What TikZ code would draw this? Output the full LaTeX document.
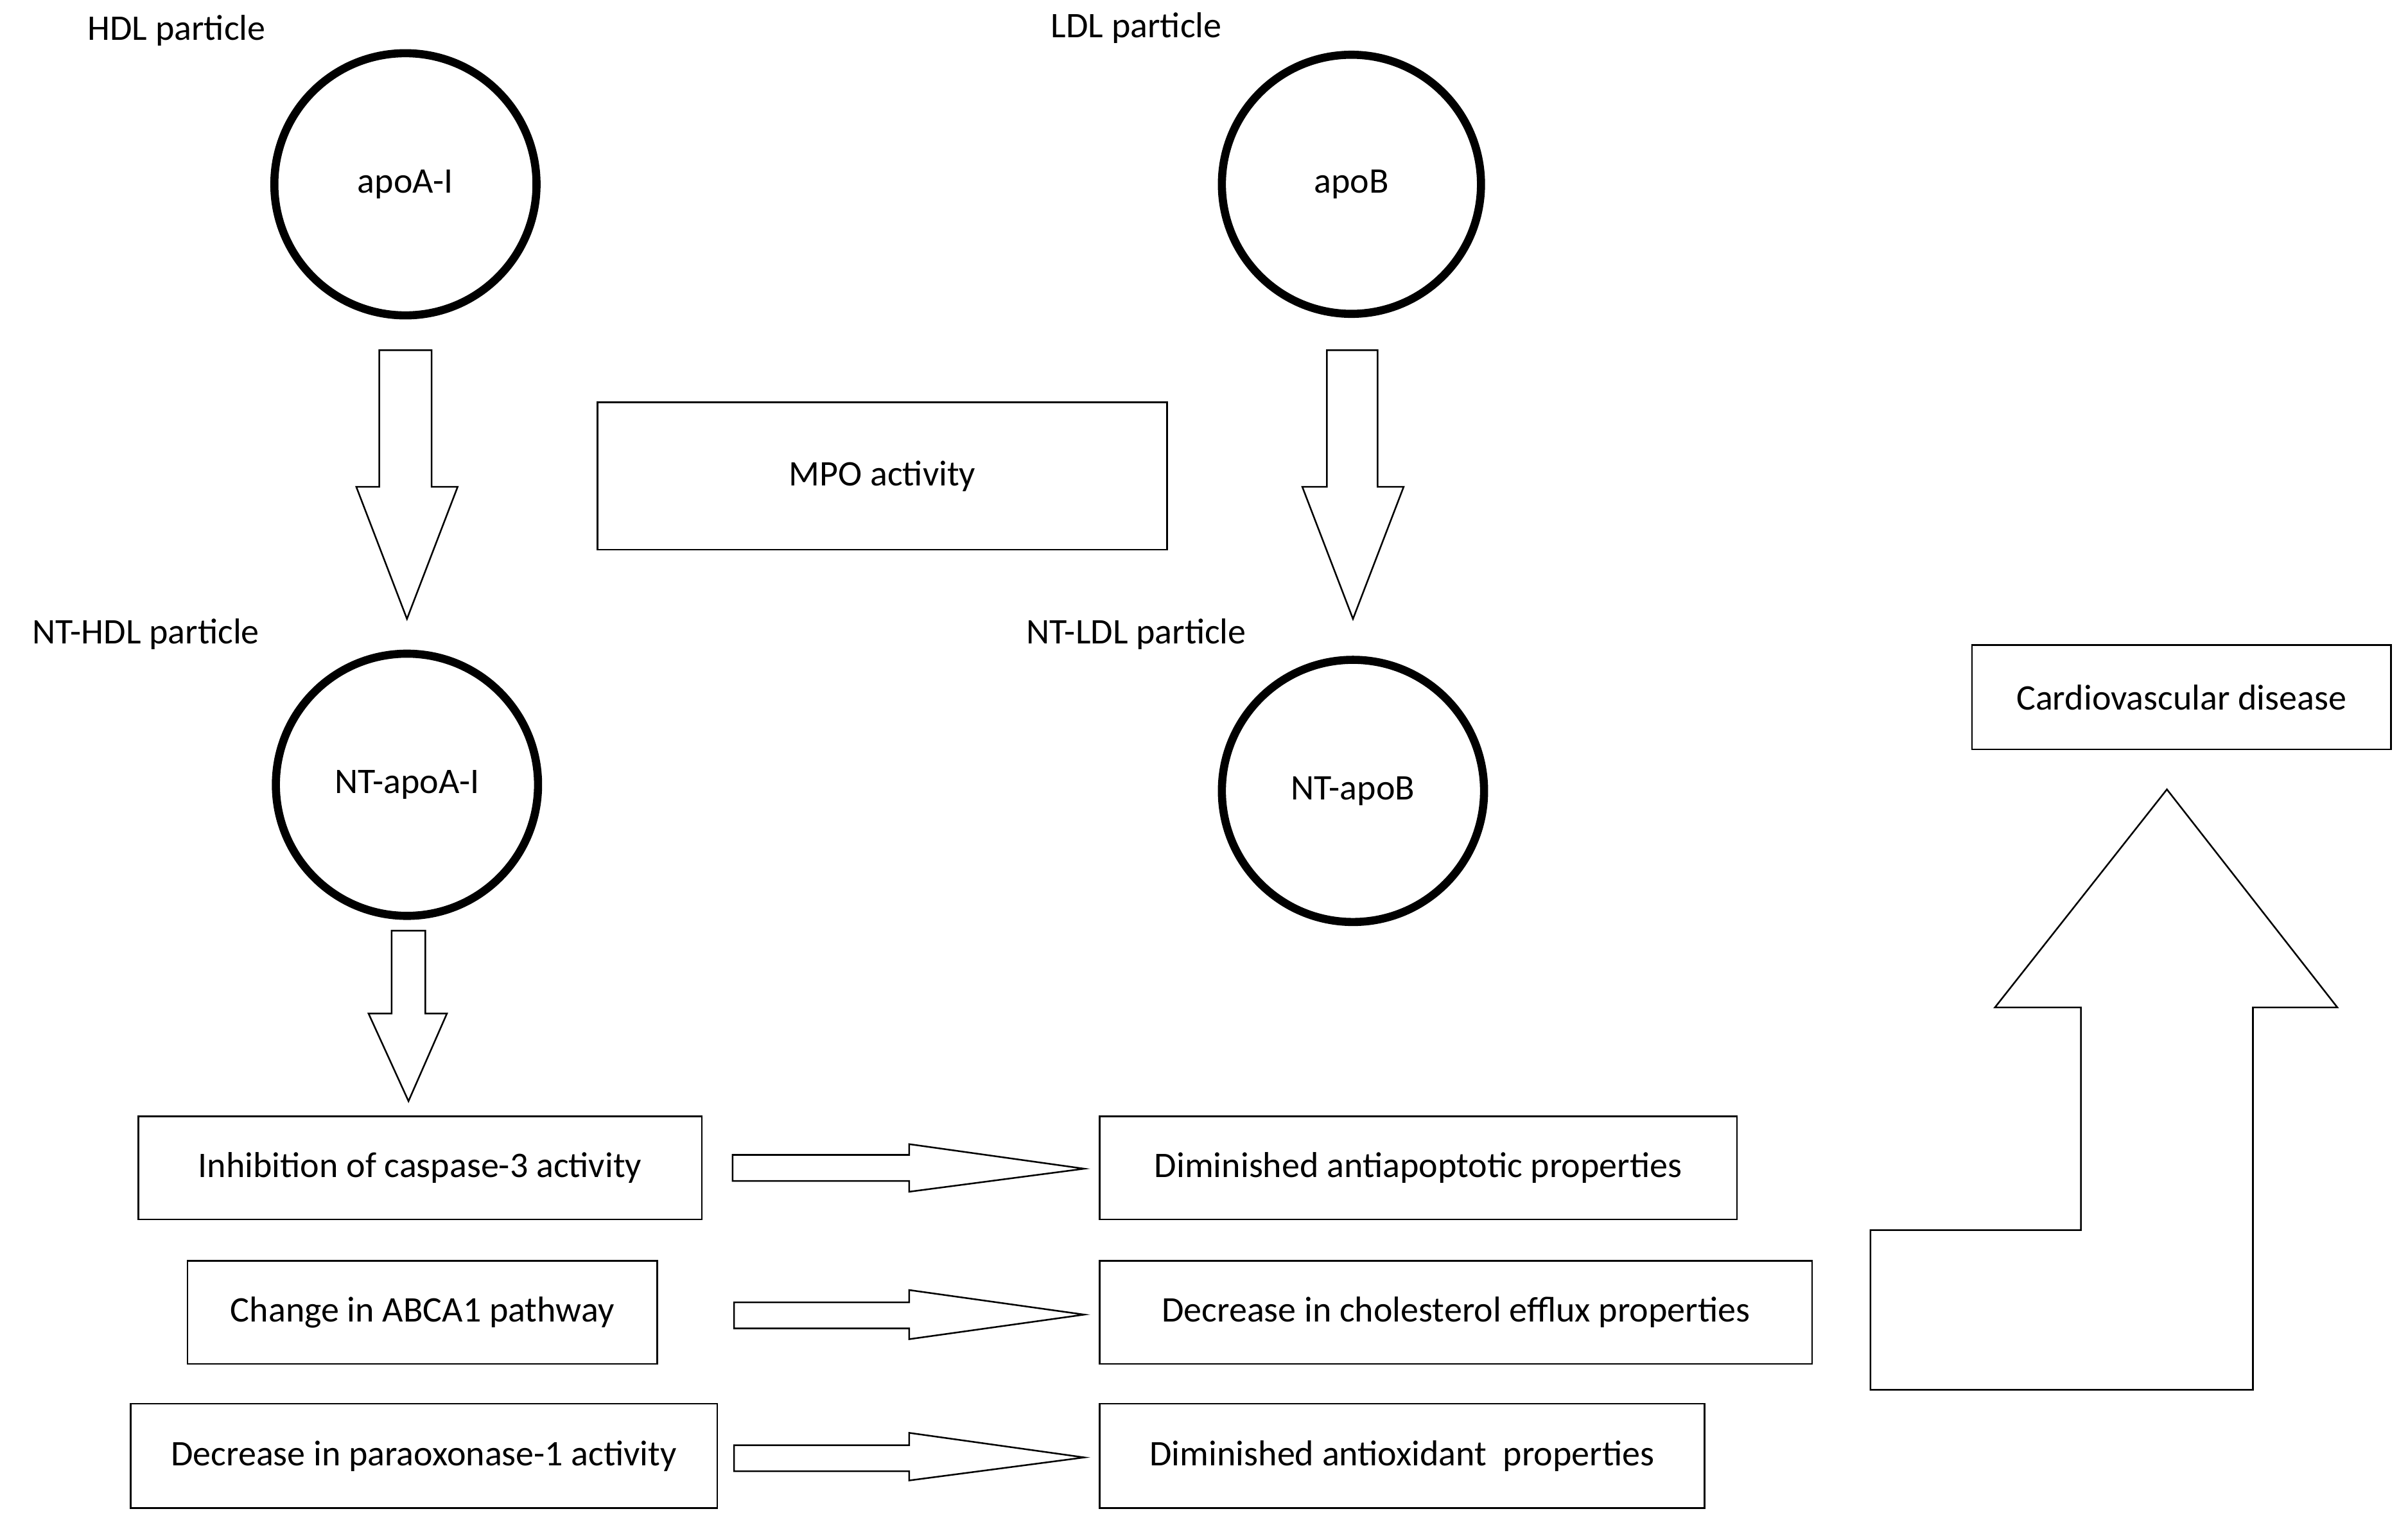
\documentclass[tikz,border=0pt]{standalone}
\usepackage{fontspec}
\setmainfont{Carlito}
\begin{document}
\begin{tikzpicture}[x=0.03cm,y=-0.03cm,
  every node/.style={font=\fontsize{20}{24}\selectfont},
  circ/.style={circle,draw,line width=4.5pt,minimum size=#1*0.06cm-4.5pt,inner sep=0pt},
  box/.style={draw,line width=0.9pt,inner sep=0pt},
  blk/.style={draw,line width=0.9pt,fill=white}]
\useasboundingbox[fill=white] (0,0) rectangle (1568,994);
% labels
\node (lh) at (115,20) {HDL particle};
\node (ll) at (740,18) {LDL particle};
\node (lnh) at (95,413) {NT-HDL particle};
\node (lnl) at (740,413) {NT-LDL particle};
% circles
\node[circ=88] (a1) at (264,120) {apoA-I};
\node[circ=87] (b1) at (880,120) {apoB};
\node[circ=88] (a2) at (265,511) {NT-apoA-I};
\node[circ=88] (b2) at (881,515) {NT-apoB};
% boxes
\newcommand{\bx}[4]{\draw[box] #2 rectangle #3; \path #2 -- node (#1) {#4} #3;}
\bx{mpo}{(389,262)}{(760,358)}{MPO activity}
\bx{cvd}{(1284,420)}{(1557,488)}{Cardiovascular disease}
\bx{inh}{(90,727)}{(457,794)}{Inhibition of caspase-3 activity}
\bx{chg}{(122,821)}{(428,888)}{Change in ABCA1 pathway}
\bx{dpa}{(85,914)}{(467,982)}{Decrease in paraoxonase-1 activity}
\bx{dap}{(716,727)}{(1131,794)}{Diminished antiapoptotic properties}
\bx{dch}{(716,821)}{(1180,888)}{Decrease in cholesterol efflux properties}
\bx{dao}{(716,914)}{(1110,982)}{Diminished antioxidant\ \ properties}
% block arrows
\draw[blk] (247,228)--(281,228)--(281,317)--(298,317)--(265,403)--(232,317)--(247,317)--cycle;
\draw[blk] (864,228)--(897,228)--(897,317)--(914,317)--(881,403)--(848,317)--(864,317)--cycle;
\draw[blk] (255,606)--(277,606)--(277,660)--(291,660)--(266,717)--(240,660)--(255,660)--cycle;
\draw[blk] (477,752)--(592,752)--(592,745)--(706,761)--(592,776)--(592,769)--(477,769)--cycle;
\draw[blk] (478,848)--(592,848)--(592,840)--(706,856)--(592,872)--(592,865)--(478,865)--cycle;
\draw[blk] (478,941)--(592,941)--(592,933)--(706,949)--(592,964)--(592,958)--(478,958)--cycle;
\draw[blk] (1218,801)--(1355,801)--(1355,656)--(1299,656)--(1411,514)--(1522,656)--(1467,656)--(1467,905)--(1218,905)--cycle;
\end{tikzpicture}
\end{document}
